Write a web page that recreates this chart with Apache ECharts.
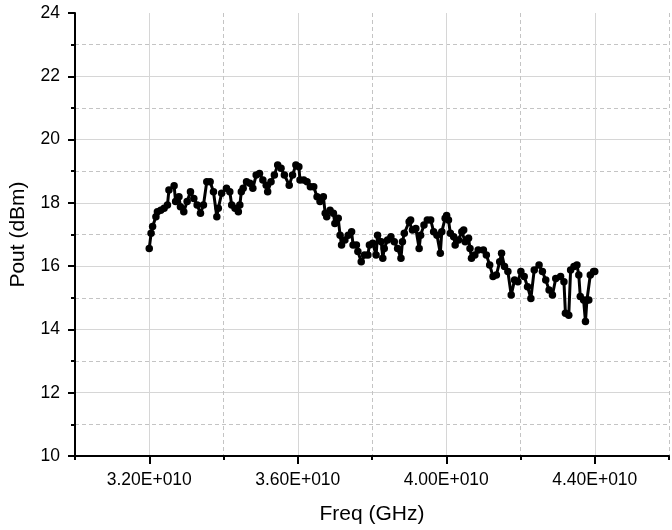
<!DOCTYPE html>
<html>
<head>
<meta charset="utf-8">
<script src="https://cdn.jsdelivr.net/npm/echarts@6/dist/echarts.min.js"></script>
<style>html,body{margin:0;padding:0;background:#fff}#c{width:672px;height:530px}</style>
</head>
<body>
<div id="c"></div>
<script>
// Frequency (GHz) and output power (dBm)
const freqGHz = [
32.00,32.05,32.09,32.18,32.22,32.31,32.40,32.49,32.53,32.67,32.71,32.80,32.84,32.93,33.02,33.11,33.20,33.29,33.38,33.46,
33.55,33.64,33.73,33.82,33.86,33.95,34.08,34.17,34.22,34.31,34.40,34.44,34.48,34.53,34.62,34.71,34.79,34.88,34.97,35.06,
35.15,35.19,35.28,35.37,35.46,35.55,35.64,35.77,35.86,35.95,
36.03,36.06,36.16,36.25,36.34,36.43,36.52,36.60,36.69,36.74,36.78,36.87,36.96,37.00,37.09,37.14,37.18,37.27,37.36,37.45,
37.49,37.58,37.62,37.71,37.80,37.89,37.93,38.02,38.11,38.15,38.25,38.29,38.33,38.42,38.51,38.60,38.69,38.78,38.82,38.87,
39.00,39.04,39.09,39.18,39.27,39.31,39.40,39.49,39.58,39.66,39.75,39.84,39.88,39.97,
40.01,40.06,40.11,40.20,40.24,40.33,40.42,40.47,40.51,40.60,40.64,40.68,40.77,40.86,41.00,41.08,41.17,41.26,41.35,41.44,
41.49,41.57,41.66,41.75,41.84,41.93,42.01,42.10,42.19,42.28,42.37,42.50,42.59,42.68,42.77,42.86,42.95,43.08,43.17,43.21,
43.30,43.35,43.44,43.52,43.57,43.61,43.70,43.75,43.79,43.84,43.88,43.97,44.00
];
const poutDbm = [
16.56,17.04,17.25,17.56,17.72,17.77,17.83,17.93,18.41,18.54,18.04,18.19,17.88,17.72,18.04,18.35,18.14,17.93,17.67,17.93,
18.67,18.67,18.35,17.56,17.83,18.30,18.46,18.35,17.93,17.83,17.72,17.93,18.35,18.46,18.67,18.62,18.46,18.88,18.93,18.72,
18.56,18.35,18.67,18.88,19.20,19.09,18.88,18.56,18.88,19.20,
19.14,18.72,18.72,18.67,18.51,18.51,18.19,18.04,18.19,17.67,17.56,17.77,17.67,17.35,17.51,16.98,16.67,16.83,16.98,17.09,
16.67,16.67,16.46,16.14,16.35,16.35,16.67,16.72,16.35,16.98,16.77,16.25,16.56,16.83,16.93,16.77,16.56,16.25,16.77,17.04,
17.40,17.46,17.14,17.19,16.56,16.98,17.30,17.46,17.46,17.09,16.98,16.41,17.09,17.51,
17.60,17.46,17.04,16.93,16.67,16.83,17.09,17.14,16.77,16.88,16.56,16.25,16.35,16.51,16.51,16.35,16.04,15.67,15.72,16.14,
16.41,15.99,15.83,15.09,15.56,15.51,15.83,15.67,15.35,14.98,15.88,16.04,15.83,15.56,15.25,15.09,15.61,15.67,15.51,14.51,
14.45,15.88,15.99,16.04,15.72,15.04,14.93,14.25,14.93,14.93,15.72,15.83,15.83
];
// Axis ranges and tick labels
const xRangeGHz = [30, 46];
const xLabelTicksGHz = [32, 36, 40, 44];
const yRange = [10, 24];

const data = freqGHz.map((f, i) => [f * 1e9, poutDbm[i]]);
const fontFam = '"Liberation Sans", Arial, sans-serif';
const solidGrid = { show: true, lineStyle: { color: '#d6d6d6', width: 1, type: 'solid' } };
const dashGrid = { show: true, lineStyle: { color: '#c4c4c4', width: 1, type: [4, 3] } };

const chart = echarts.init(document.getElementById('c'), null, { renderer: 'canvas' });
chart.setOption({
  animation: false,
  backgroundColor: '#fff',
  grid: { left: 75, top: 13, width: 601, height: 443, containLabel: false },
  xAxis: [
    {
      type: 'value', position: 'bottom',
      min: xRangeGHz[0] * 1e9, max: xRangeGHz[1] * 1e9, interval: 2e9,
      name: 'Freq (GHz)', nameLocation: 'middle', nameGap: 48,
      nameTextStyle: { fontFamily: fontFam, fontSize: 21, color: '#000' },
      axisLine: { show: true, lineStyle: { color: '#000', width: 2 } },
      axisTick: { show: false },
      axisLabel: {
        show: true, margin: 15, fontFamily: fontFam, fontSize: 17.5, color: '#000',
        showMinLabel: true, showMaxLabel: true,
        formatter: function (v) {
          const g = Math.round(v / 1e9);
          if (xLabelTicksGHz.indexOf(g) < 0) return '';
          return (g / 10).toFixed(2) + 'E+010';
        }
      },
      splitLine: { show: false }
    },
    {
      type: 'value', position: 'bottom',
      min: xRangeGHz[0] * 1e9, max: xRangeGHz[1] * 1e9, interval: 4e9,
      axisLine: { show: false },
      axisTick: { show: true, length: 4, lineStyle: { color: '#000', width: 2 } },
      axisLabel: { show: false },
      splitLine: dashGrid,
      minorTick: { show: true, splitNumber: 2, length: 8, lineStyle: { color: '#000', width: 2 } },
      minorSplitLine: solidGrid
    }
  ],
  yAxis: {
    type: 'value',
    min: yRange[0], max: yRange[1], interval: 2,
    name: 'Pout (dBm)', nameLocation: 'middle', nameGap: 46,
    nameTextStyle: { fontFamily: fontFam, fontSize: 21, color: '#000' },
    axisLine: { show: true, lineStyle: { color: '#000', width: 2 } },
    axisTick: { show: true, length: 7, lineStyle: { color: '#000', width: 2 } },
    minorTick: { show: true, splitNumber: 2, length: 4, lineStyle: { color: '#000', width: 2 } },
    axisLabel: { margin: 15, fontFamily: fontFam, fontSize: 17.5, color: '#000' },
    splitLine: { show: true, showMinLine: false, showMaxLine: false, lineStyle: { color: '#d6d6d6', width: 1 } },
    minorSplitLine: dashGrid
  },
  series: [{
    type: 'line',
    xAxisIndex: 0,
    data: data,
    symbol: 'circle',
    symbolSize: 7.5,
    showSymbol: true,
    lineStyle: { color: '#000', width: 3 },
    itemStyle: { color: '#000' },
    z: 3
  }]
});
</script>
</body>
</html>
